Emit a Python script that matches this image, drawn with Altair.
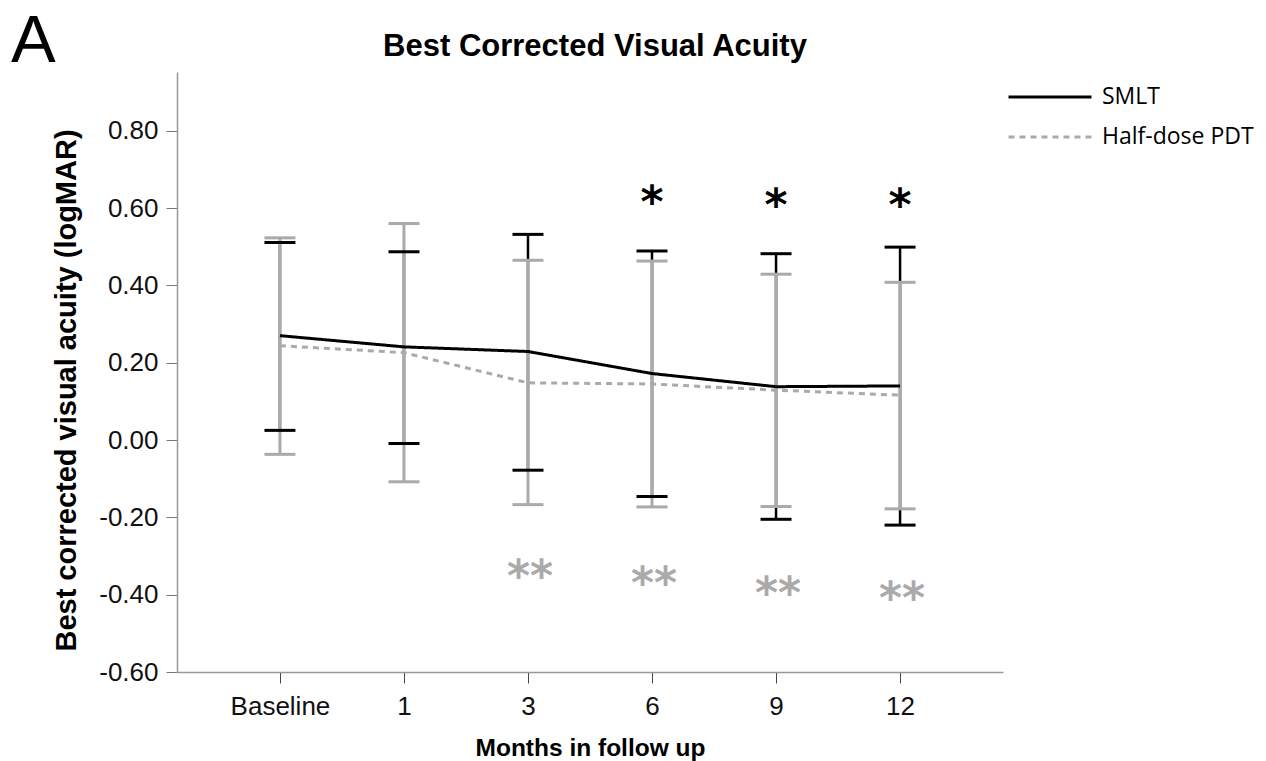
import altair as alt
import pandas as pd

months = ["Baseline", "1", "3", "6", "9", "12"]
series_names = ["SMLT", "Half-dose PDT"]

smlt_mean = [0.270, 0.241, 0.229, 0.172, 0.138, 0.140]
smlt_upper = [0.511, 0.487, 0.532, 0.489, 0.482, 0.499]
smlt_lower = [0.025, -0.009, -0.078, -0.146, -0.205, -0.220]

pdt_mean = [0.244, 0.226, 0.148, 0.145, 0.129, 0.116]
pdt_upper = [0.523, 0.560, 0.465, 0.463, 0.429, 0.408]
pdt_lower = [-0.037, -0.108, -0.167, -0.173, -0.172, -0.178]

smlt_sig_months = ["6", "9", "12"]
smlt_sig_y = [0.638, 0.630, 0.630]
pdt_sig_months = ["3", "6", "9", "12"]
pdt_sig_y = [-0.332, -0.349, -0.375, -0.388]

y_tick_values = [-0.6, -0.4, -0.2, 0.0, 0.2, 0.4, 0.6, 0.8]

BLACK = "#000000"
GRAY = "#aaaaaa"
FONT = "Liberation Sans"

rows = []
for i, m in enumerate(months):
    rows.append({"month": m, "series": "SMLT", "mean": smlt_mean[i],
                 "lower": smlt_lower[i], "upper": smlt_upper[i]})
for i, m in enumerate(months):
    rows.append({"month": m, "series": "Half-dose PDT", "mean": pdt_mean[i],
                 "lower": pdt_lower[i], "upper": pdt_upper[i]})
df = pd.DataFrame(rows)

sig_smlt = pd.DataFrame({"month": smlt_sig_months, "y": smlt_sig_y, "t": ["*"] * len(smlt_sig_months)})
sig_pdt = pd.DataFrame({"month": pdt_sig_months, "y": pdt_sig_y, "t": ["**"] * len(pdt_sig_months)})

y_scale = alt.Scale(domain=[-0.6, 0.952], nice=False, zero=False)
x_scale = alt.Scale(domain=months, type="point", padding=0.83)

x_axis = alt.Axis(
    title="Months in follow up", labelFontSize=26, labelFont=FONT, labelColor="#111",
    tickSize=11, tickColor="#444", domainColor="#999", domainWidth=1.5, labelPadding=10,
    labelAngle=0, titleFont=FONT, titleFontSize=24.5, titleFontWeight="bold",
    titleY=83, titleBaseline="alphabetic", titleColor="#000",
)
y_axis = alt.Axis(
    title="Best corrected visual acuity (logMAR)", values=y_tick_values,
    labelExpr="(datum.value < -0.0001 ? '-' : '') + format(abs(datum.value), '.2f')",
    labelFontSize=26, labelFont=FONT, labelColor="#111", tickSize=11, tickColor="#777",
    domainColor="#999", domainWidth=1.5, labelPadding=8, grid=False,
    titleFont=FONT, titleFontSize=29, titleFontWeight="bold", titleColor="#000",
    titleX=-111, titleY=318, titleAlign="center", titleBaseline="middle", titleAngle=270,
)


def X():
    return alt.X("month:N", sort=months, scale=x_scale, axis=x_axis)


def Y(field):
    return alt.Y(field, scale=y_scale, axis=y_axis)


base = alt.Chart(df)

legend = alt.Legend(
    title=None, orient="none", legendX=830, legendY=11, symbolType="stroke",
    symbolSize=6889, symbolStrokeWidth=3, labelFont="Open Sans", labelFontSize=23,
    labelColor="#000", labelOffset=9, padding=0, rowPadding=12, clipHeight=28,
    labelExpr="datum.label == 'SMLT' ? datum.label : '\u2002' + datum.label",
)

rule_smlt = base.transform_filter(alt.datum.series == "SMLT").mark_rule(
    color=BLACK, strokeWidth=2.5).encode(x=X(), y=Y("lower:Q"), y2="upper:Q")
rule_pdt = base.transform_filter(alt.datum.series == "Half-dose PDT").mark_rule(
    color=GRAY, strokeWidth=3).encode(x=X(), y=Y("lower:Q"), y2="upper:Q")

caps_pdt = base.transform_filter(alt.datum.series == "Half-dose PDT").transform_fold(
    ["lower", "upper"], as_=["bound", "val"]).mark_tick(
    color=GRAY, size=31, thickness=3, orient="horizontal", opacity=1).encode(x=X(), y=Y("val:Q"))
caps_smlt = base.transform_filter(alt.datum.series == "SMLT").transform_fold(
    ["lower", "upper"], as_=["bound", "val"]).mark_tick(
    color=BLACK, size=31, thickness=3, orient="horizontal", opacity=1).encode(x=X(), y=Y("val:Q"))

lines = base.mark_line(strokeWidth=3).encode(
    x=X(), y=Y("mean:Q"),
    color=alt.Color("series:N", scale=alt.Scale(domain=series_names, range=[BLACK, GRAY]), legend=legend),
    strokeDash=alt.StrokeDash("series:N", scale=alt.Scale(domain=series_names, range=[[1, 0], [6, 5]]), legend=legend),
)

stars_smlt = alt.Chart(sig_smlt).mark_text(
    font="DejaVu Sans", fontSize=44, fontWeight="bold", color=BLACK, baseline="middle", dy=11
).encode(x=X(), y=Y("y:Q"), text="t:N")
stars_pdt = alt.Chart(sig_pdt).mark_text(
    font="DejaVu Sans", fontSize=44, fontWeight="bold", color=GRAY, baseline="middle", dy=10, dx=2
).encode(x=X(), y=Y("y:Q"), text="t:N")

panel = alt.Chart(pd.DataFrame({"t": ["A"]})).mark_text(
    font="Liberation Sans", fontSize=67, color=BLACK, align="left", baseline="alphabetic"
).encode(text="t:N", x=alt.value(-166), y=alt.value(-10))

main_title = alt.Chart(pd.DataFrame({"t": ["Best Corrected Visual Acuity"]})).mark_text(
    font=FONT, fontSize=31, fontWeight="bold", color=BLACK, align="center", baseline="alphabetic"
).encode(text="t:N", x=alt.value(418), y=alt.value(-16))

chart = alt.layer(
    rule_smlt, rule_pdt, caps_pdt, caps_smlt, lines, stars_smlt, stars_pdt, panel, main_title
).properties(
    width=826, height=600,
    padding={"left": 177, "top": 72, "right": 263, "bottom": 89},
    autosize=alt.AutoSizeParams(type="none"),
).configure_view(stroke=None)

chart.save("out.html", embed_options={"renderer": "svg", "actions": False})
